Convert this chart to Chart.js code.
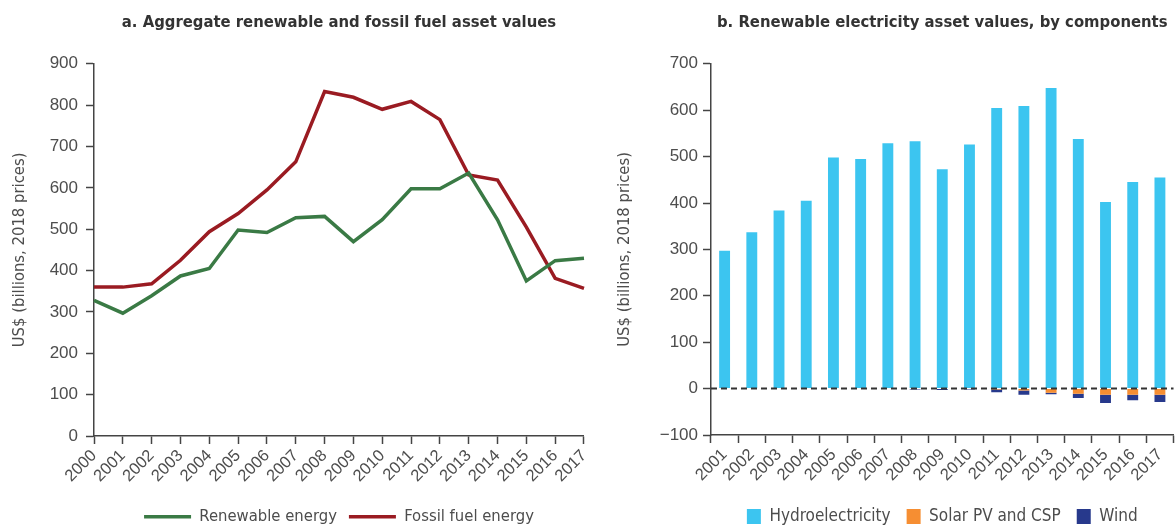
<!DOCTYPE html>
<html>
<head>
<meta charset="utf-8">
<script src="https://cdn.jsdelivr.net/npm/chart.js@4.4.1/dist/chart.umd.min.js"></script>
<style>
html,body{margin:0;padding:0;overflow:hidden;background:#fff;width:1176px;height:526px;}
#wrapA{position:absolute;left:0;top:0;width:600px;height:535px;}
#wrapB{position:absolute;left:600px;top:0;width:576px;height:535px;}
</style>
</head>
<body>
<div id="wrapA"><canvas id="chartA" width="600" height="535"></canvas></div>
<div id="wrapB"><canvas id="chartB" width="576" height="535"></canvas></div>
<script>
// ---- Data ----
const yearsA = ['2000','2001','2002','2003','2004','2005','2006','2007','2008','2009','2010','2011','2012','2013','2014','2015','2016','2017'];
const renewable = [328, 297, 339, 387, 405, 498, 492, 528, 531, 470, 523, 598, 598, 636, 523, 375, 424, 430];
const fossil    = [360, 360, 368, 425, 494, 538, 595, 663, 833, 819, 790, 809, 765, 631, 619, 505, 381, 357];

const yearsB = ['2001','2002','2003','2004','2005','2006','2007','2008','2009','2010','2011','2012','2013','2014','2015','2016','2017'];
const hydro = [297, 337, 384, 405, 498, 495, 529, 533, 473, 526, 605, 609, 648, 538, 402, 445, 455];
const solar = [0, 0, 0, 0, 0, 0, 0, 0, 0, 0, -2, -4, -9, -11, -13, -13, -13];
const wind  = [0, 0, 0, 0, 0, 0, -1, -2, -3, -2, -6, -9, -3, -9, -18, -12, -16];

const ticksA = {min: 0, max: 900, step: 100};
const ticksB = {min: -100, max: 700, step: 100};

// ---- Styles ----
const NARROW = "'Liberation Sans Narrow', 'Arial Narrow', 'DejaVu Sans Condensed', sans-serif";
const SANS = "'Liberation Sans', Arial, sans-serif";
const TXT = '#4d4d4d';
const AXIS = '#444';

Chart.defaults.font.family = SANS;
Chart.defaults.color = TXT;
Chart.defaults.animation = false;

function axisCommon(extra) {
  return Object.assign({
    border: {display: true, color: AXIS, width: 1.5},
    grid: {display: true, drawOnChartArea: false, drawTicks: true, tickLength: 8, tickColor: AXIS, tickWidth: 1.5}
  }, extra);
}

const zeroLine = {
  id: 'zeroLine',
  afterDatasetsDraw(chart) {
    const y = chart.scales.y.getPixelForValue(0);
    const {left, right} = chart.chartArea;
    const ctx = chart.ctx;
    ctx.save();
    ctx.strokeStyle = '#333';
    ctx.lineWidth = 2;
    ctx.setLineDash([6, 4]);
    ctx.beginPath();
    ctx.moveTo(left, y);
    ctx.lineTo(right, y);
    ctx.stroke();
    ctx.restore();
  }
};

new Chart(document.getElementById('chartA'), {
  type: 'line',
  data: {
    labels: yearsA,
    datasets: [
      {label: 'Renewable energy', data: renewable, borderColor: '#3a7a45', backgroundColor: '#3a7a45', borderWidth: 3.5, pointRadius: 0, tension: 0},
      {label: 'Fossil fuel energy', data: fossil, borderColor: '#9a1b22', backgroundColor: '#9a1b22', borderWidth: 3.5, pointRadius: 0, tension: 0}
    ]
  },
  options: {
    responsive: false,
    layout: {padding: {left: 0, right: 11, top: 0, bottom: 0}},
    plugins: {
      title: {display: true, fullSize: false, text: 'a. Aggregate renewable and fossil fuel asset values',
        color: '#333', font: {family: NARROW, size: 16.5, weight: 'bold'}, padding: {top: 13, bottom: 31}},
      legend: {position: 'bottom', fullSize: false,
        labels: {usePointStyle: true, pointStyle: 'line', pointStyleWidth: 47, color: TXT, font: {family: NARROW, size: 16.5}, padding: 12}},
      tooltip: {enabled: false}
    },
    scales: {
      x: axisCommon({
        type: 'category', offset: false,
        ticks: {minRotation: 45, maxRotation: 45, autoSkip: false, padding: 2, color: TXT, font: {family: SANS, size: 16.5}},
        afterFit(s) { s.height = 60.5; }
      }),
      y: axisCommon({
        min: ticksA.min, max: ticksA.max,
        ticks: {stepSize: ticksA.step, padding: 8, color: TXT, font: {family: SANS, size: 17}},
        title: {display: true, text: 'US$ (billions, 2018 prices)', color: TXT, font: {family: NARROW, size: 16.5}, padding: {top: 10, bottom: 0}},
        afterFit(s) { s.width = 94; }
      })
    }
  }
});

new Chart(document.getElementById('chartB'), {
  type: 'bar',
  data: {
    labels: yearsB,
    datasets: [
      {label: 'Hydroelectricity', data: hydro, backgroundColor: '#3cc5f0', borderWidth: 0},
      {label: 'Solar PV and CSP', data: solar, backgroundColor: '#f68e32', borderWidth: 0},
      {label: 'Wind', data: wind, backgroundColor: '#27398c', borderWidth: 0}
    ]
  },
  options: {
    responsive: false,
    layout: {padding: {left: 0, right: 2, top: 0, bottom: 0}},
    datasets: {bar: {barPercentage: 0.8, categoryPercentage: 0.5}},
    plugins: {
      title: {display: true, fullSize: false, text: 'b. Renewable electricity asset values, by components',
        color: '#333', font: {family: NARROW, size: 16.5, weight: 'bold'}, padding: {top: 13, bottom: 31}},
      legend: {position: 'bottom', fullSize: false,
        labels: {boxWidth: 14, boxHeight: 15, color: TXT, font: {family: NARROW, size: 17}, padding: 16}},
      tooltip: {enabled: false}
    },
    scales: {
      x: axisCommon({
        stacked: true,
        ticks: {minRotation: 45, maxRotation: 45, autoSkip: false, padding: 2, color: TXT, font: {family: SANS, size: 16.5}},
        afterFit(s) { s.height = 57; }
      }),
      y: axisCommon({
        stacked: true,
        min: ticksB.min, max: ticksB.max,
        ticks: {stepSize: ticksB.step, padding: 5, color: TXT, font: {family: SANS, size: 17},
          callback: (v) => String(v).replace('-', '\u2212')},
        title: {display: true, text: 'US$ (billions, 2018 prices)', color: TXT, font: {family: NARROW, size: 16.5}, padding: {top: 15, bottom: 0}},
        afterFit(s) { s.width = 111; }
      })
    }
  },
  plugins: [zeroLine]
});
</script>
</body>
</html>
